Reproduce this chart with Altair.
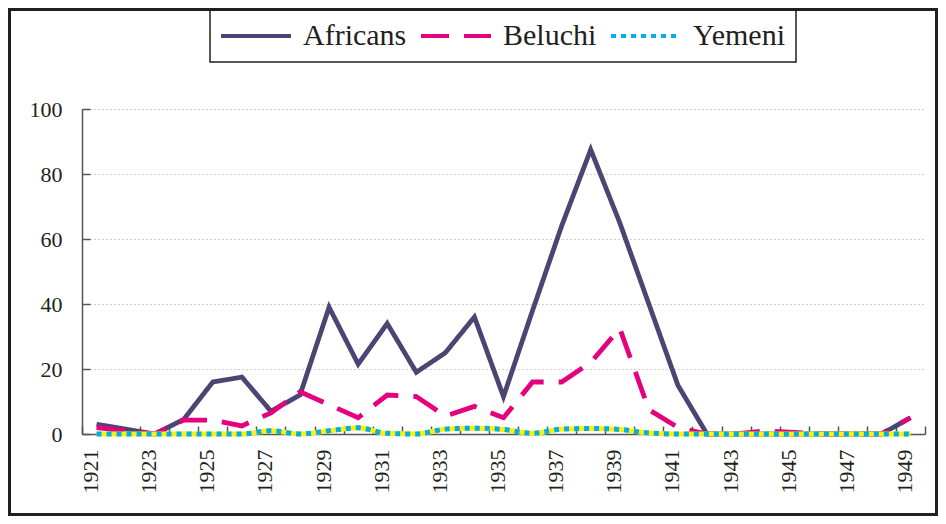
import altair as alt
import pandas as pd

years = list(range(1921, 1950))
africans = [3, 1.5, 0, 4.5, 16, 17.5, 7, 12, 39, 21.5, 34, 19, 25, 36, 11.5, 38, 64, 87.5, 65, 40, 15, 0, 0, 0, 0, 0, 0, 0, 5]
beluchi = [2, 1, 0, 4.3, 4.3, 2.5, 6.5, 13, 9, 5, 12, 11.5, 5.5, 8.5, 5, 16, 16, 22, 32.5, 7.5, 2, 0, 0, 1, 0.5, 0, 0, 0, 5]
yemeni = [0, 0, 0, 0, 0, 0, 1, 0, 1, 1.9, 0.2, 0, 1.5, 1.8, 1.4, 0.2, 1.5, 1.7, 1.4, 0.3, 0, 0, 0, 0, 0, 0, 0, 0, 0]

series_names = ["Africans", "Beluchi", "Yemeni"]
series_colors = ["#4B4573", "#E5007E", "#00AEEF"]
series_dash = [[1, 0], [28, 15], [5, 5]]
yellow = "#FFF200"

label_years = list(range(1921, 1950, 2))
half_years = [y + 0.5 for y in range(1920, 1950)]
y_ticks = [0, 20, 40, 60, 80, 100]

rows = []
for name, vals in zip(series_names, [africans, beluchi, yemeni]):
    for yr, v in zip(years, vals):
        rows.append({"year": yr, "value": v, "series": name})
df = pd.DataFrame(rows)

W, H = 843, 325
FONT = "Liberation Serif"
INK = "#231F20"
AX = "#555555"

xscale = alt.Scale(domain=[1920.5, 1949.5], nice=False, zero=False)
yscale = alt.Scale(domain=[0, 100], nice=False)
cscale = alt.Scale(domain=series_names, range=series_colors)
dscale = alt.Scale(domain=series_names, range=series_dash)

base = alt.Chart(df)

x_bottom = alt.X("year:Q", scale=xscale, title=None,
                 axis=alt.Axis(values=label_years, labelAngle=-90, ticks=False, domain=False,
                               grid=False, labelPadding=15, labelFont=FONT, labelFontSize=22,
                               labelColor=INK, format="d", labelFlush=False, labelOverlap=False,
                               labelOffset=-6, orient="bottom"))
y_left = alt.Y("value:Q", scale=yscale, title=None,
               axis=alt.Axis(values=y_ticks, ticks=False, domain=True, domainColor=AX,
                             domainWidth=1.5, grid=True, gridDash=[1, 3], gridColor="#9a9a9a",
                             labelPadding=20, labelFont=FONT, labelFontSize=22, labelColor=INK,
                             orient="left"))

main = base.transform_filter(
    alt.FieldOneOfPredicate(field="series", oneOf=["Africans", "Beluchi"])
).mark_line(strokeWidth=4.8, strokeJoin="miter").encode(
    x=x_bottom,
    y=y_left,
    color=alt.Color("series:N", scale=cscale, title=None),
    strokeDash=alt.StrokeDash("series:N", scale=dscale, title=None),
    detail="series:N",
)

x_top = alt.X("year:Q", scale=xscale, title=None,
              axis=alt.Axis(values=half_years, orient="top", offset=-H, labels=False, ticks=True,
                            tickSize=8, tickColor=AX, tickWidth=1.5, domain=True, domainColor=AX,
                            domainWidth=1.5, grid=False))
y_right = alt.Y("value:Q", scale=yscale, title=None,
                axis=alt.Axis(values=y_ticks, orient="right", offset=-W, labels=False, ticks=True,
                              tickSize=8, tickColor=AX, tickWidth=1.5, domain=False, grid=False))

yem_under = base.transform_filter(
    alt.datum.series == "Yemeni"
).mark_line(strokeWidth=5, color=yellow, interpolate="monotone").encode(
    x=x_top,
    y=y_right,
)

yem_over = base.transform_filter(
    alt.datum.series == "Yemeni"
).mark_line(strokeWidth=5, interpolate="monotone").encode(
    x=alt.X("year:Q", scale=xscale, axis=None),
    y=alt.Y("value:Q", scale=yscale, axis=None),
    color=alt.Color("series:N", scale=cscale, title=None),
    strokeDash=alt.StrokeDash("series:N", scale=dscale, title=None),
)

frame = alt.Chart(alt.Data(values=[{"f": 1}])).mark_rect(
    filled=False, stroke=INK, strokeWidth=3
).encode(
    x=alt.value(-72.5), x2=alt.value(W + 11.5),
    y=alt.value(-99.5), y2=alt.value(H + 80.5),
)

chart = alt.layer(main, yem_under, yem_over, frame).resolve_axis(
    x="independent", y="independent"
).properties(
    width=W, height=H,
    autosize=alt.AutoSizeParams(type="none"),
    padding={"left": 74, "top": 101, "right": 13, "bottom": 82},
).configure_view(stroke=None).configure_legend(
    orient="none", legendX=128, legendY=-99, direction="horizontal",
    strokeColor=INK, strokeWidth=1.5, padding=11,
    labelFont=FONT, labelFontSize=30, labelColor=INK,
    symbolType="M-1.5,0H5.5", symbolSize=400, symbolStrokeWidth=4,
    labelOffset=52, columnPadding=6, labelLimit=300,
)

chart.save("out.html", embed_options={"renderer": "svg", "actions": False})
